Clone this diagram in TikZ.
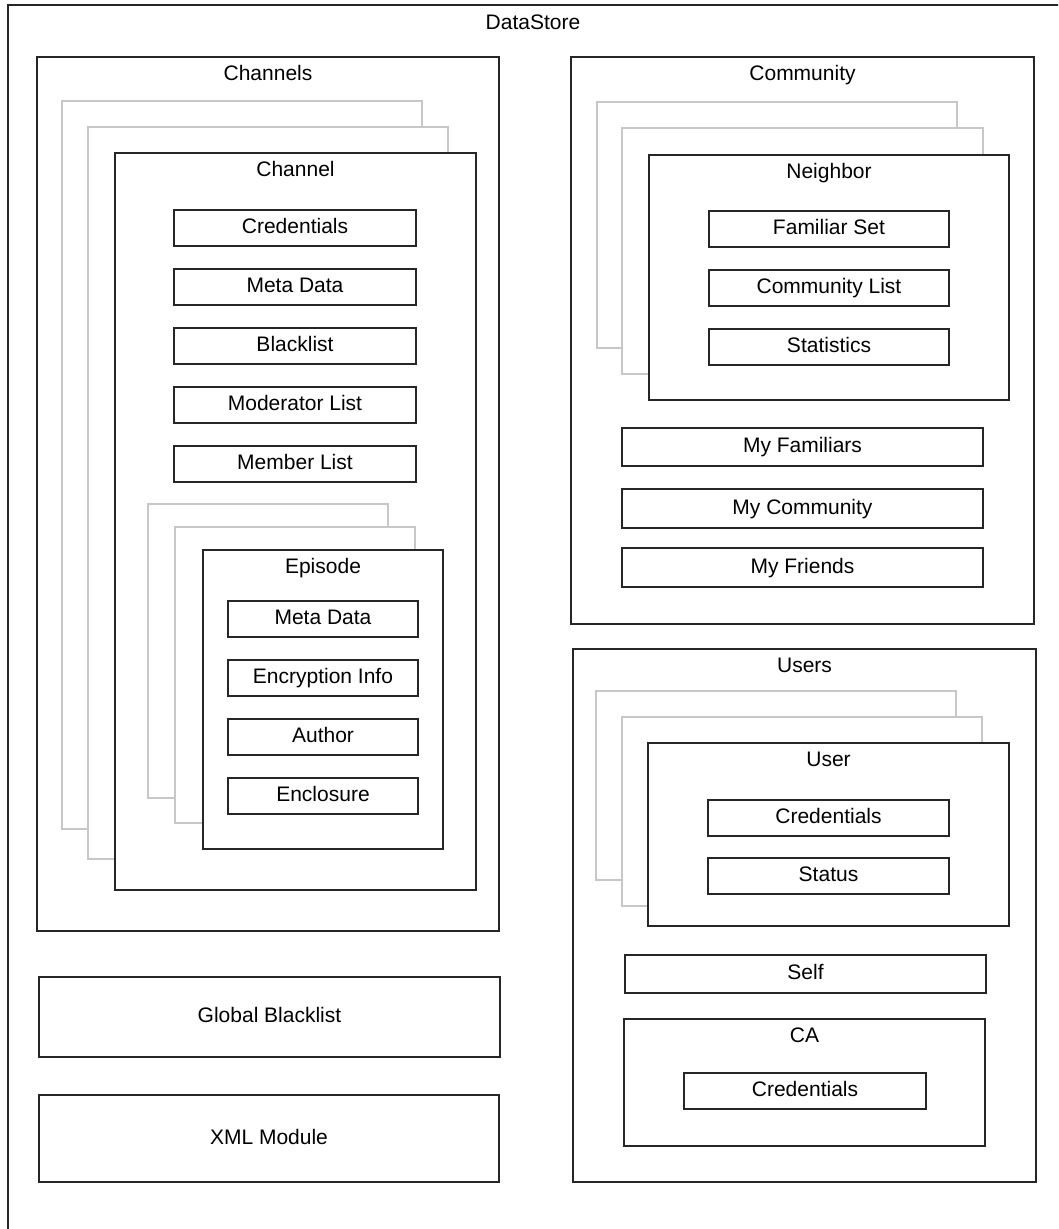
\documentclass[tikz,border=0pt]{standalone}
\usepackage{fontspec}
\setmainfont{Liberation Sans}
\usetikzlibrary{fit,calc}

\tikzset{
  frame/.style={draw=black!85, line width=1.1pt, fill=white, inner sep=0pt},
  ghost/.style={draw=black!22, line width=1.1pt, fill=white, inner sep=0pt},
  caption/.style={anchor=base, inner sep=0pt, font=\fontsize{21}{25}\selectfont},
  itemtext/.style={inner sep=0pt, text height=15pt, text depth=4pt,
                   font=\fontsize{21}{25}\selectfont},
}

% box from corner (x1,y1) to (x2,y2), y measured downwards
\newcommand\boxat[6]{\node[#6, fit={(#2,#3) (#4,#5)}] (#1) {};}
% title near the top edge of a container
\newcommand\titled[2]{\node[caption] (#1-title) at ($(#1.north)+(0,24)$) {#2};}
% text centred in a box
\newcommand\named[2]{\node[itemtext] (#1-text) at (#1.center) {#2};}

\begin{document}
\begin{tikzpicture}[x=1pt, y=-1pt]
  \useasboundingbox (0,0) rectangle (1058,1229);
  \clip (0,0) rectangle (1058,1229);

  % DataStore
  \boxat{datastore}{8}{5}{1064}{1270}{frame}
  \node[caption] (datastore-title) at (533,29) {DataStore};

  % Channels
  \boxat{channels}{37}{57}{499}{931}{frame}
  \titled{channels}{Channels}
  \boxat{chghostA}{62}{101}{422}{829}{ghost}
  \boxat{chghostB}{88}{127}{448}{859}{ghost}
  \boxat{channel}{115}{153}{476}{890}{frame}
  \titled{channel}{Channel}
  \boxat{chcred}{174}{210}{416}{246}{frame}   \named{chcred}{Credentials}
  \boxat{chmeta}{174}{269}{416}{305}{frame}   \named{chmeta}{Meta Data}
  \boxat{chblack}{174}{328}{416}{364}{frame}  \named{chblack}{Blacklist}
  \boxat{chmod}{174}{387}{416}{423}{frame}    \named{chmod}{Moderator List}
  \boxat{chmem}{174}{446}{416}{482}{frame}    \named{chmem}{Member List}

  % Episodes
  \boxat{epghostA}{148}{504}{388}{798}{ghost}
  \boxat{epghostB}{175}{527}{415}{823}{ghost}
  \boxat{episode}{203}{550}{443}{849}{frame}
  \titled{episode}{Episode}
  \boxat{epmeta}{228}{601}{418}{637}{frame}   \named{epmeta}{Meta Data}
  \boxat{epenc}{228}{660}{418}{696}{frame}    \named{epenc}{Encryption Info}
  \boxat{epauth}{228}{719}{418}{755}{frame}   \named{epauth}{Author}
  \boxat{epencl}{228}{778}{418}{814}{frame}   \named{epencl}{Enclosure}

  % Global modules
  \boxat{gblack}{39}{977}{500}{1057}{frame}   \named{gblack}{Global Blacklist}
  \boxat{xmlmod}{39}{1095}{499}{1182}{frame}  \named{xmlmod}{XML Module}

  % Community
  \boxat{community}{571}{57}{1034}{624}{frame}
  \titled{community}{Community}
  \boxat{nbghostA}{597}{102}{957}{348}{ghost}
  \boxat{nbghostB}{622}{128}{983}{374}{ghost}
  \boxat{neighbor}{649}{155}{1009}{400}{frame}
  \titled{neighbor}{Neighbor}
  \boxat{famset}{709}{211}{949}{247}{frame}   \named{famset}{Familiar Set}
  \boxat{comlist}{709}{270}{949}{306}{frame}  \named{comlist}{Community List}
  \boxat{stats}{709}{329}{949}{365}{frame}    \named{stats}{Statistics}
  \boxat{myfam}{622}{428}{983}{466}{frame}    \named{myfam}{My Familiars}
  \boxat{mycom}{622}{489}{983}{528}{frame}    \named{mycom}{My Community}
  \boxat{myfri}{622}{548}{983}{587}{frame}    \named{myfri}{My Friends}

  % Users
  \boxat{users}{573}{649}{1036}{1182}{frame}
  \titled{users}{Users}
  \boxat{usghostA}{596}{691}{956}{880}{ghost}
  \boxat{usghostB}{622}{717}{982}{906}{ghost}
  \boxat{user}{648}{743}{1009}{926}{frame}
  \titled{user}{User}
  \boxat{uscred}{708}{800}{949}{836}{frame}   \named{uscred}{Credentials}
  \boxat{usstat}{708}{858}{949}{894}{frame}   \named{usstat}{Status}
  \boxat{self}{625}{955}{986}{993}{frame}     \named{self}{Self}
  \boxat{ca}{624}{1019}{985}{1146}{frame}
  \titled{ca}{CA}
  \boxat{cacred}{684}{1073}{926}{1109}{frame} \named{cacred}{Credentials}
\end{tikzpicture}
\end{document}
